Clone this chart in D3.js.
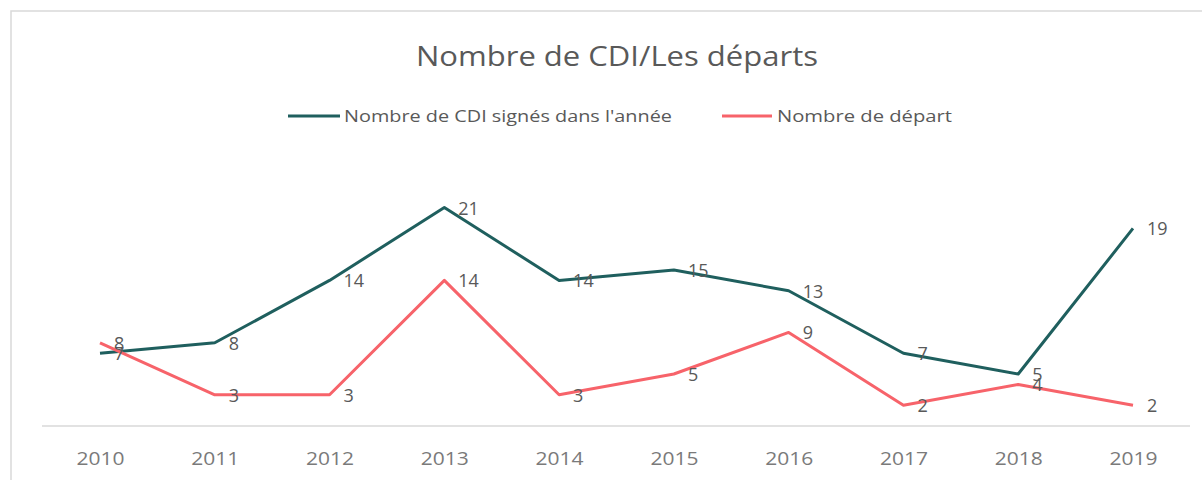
<!DOCTYPE html>
<html><head><meta charset="utf-8">
<script src="https://cdn.jsdelivr.net/npm/d3@7"></script>
<style>body{margin:0;background:#fff}svg{display:block}</style>
</head><body>
<svg id="c" width="1202" height="480"></svg>
<script>
const years = ["2010","2011","2012","2013","2014","2015","2016","2017","2018","2019"];
const cdi = [7, 8, 14, 21, 14, 15, 13, 7, 5, 19];
const departs = [8, 3, 3, 14, 3, 5, 9, 2, 4, 2];
const seriesNames = ["Nombre de CDI signés dans l'année", "Nombre de départ"];
const colors = ["#1f5f5e", "#f7636a"];
const title = "Nombre de CDI/Les départs";

const svg = d3.select("#c");
const font = "'Open Sans', 'Liberation Sans', sans-serif";

// frame
svg.append("rect").attr("x", 0).attr("y", 0).attr("width", 1202).attr("height", 480).attr("fill", "#fff");
svg.append("rect").attr("x", 11).attr("y", 11).attr("width", 1200).attr("height", 480)
  .attr("fill", "none").attr("stroke", "#d9d9d9").attr("stroke-width", 1.5);

const x = d3.scalePoint().domain(years).range([100, 1133]);
const y = d3.scaleLinear().domain([0, 25]).range([426, 166]);

// axis
const xAxis = d3.axisBottom(x).tickSize(0).tickPadding(26);
const gx = svg.append("g").attr("transform", "translate(0,426)").call(xAxis);
gx.select(".domain").remove();
svg.append("line").attr("x1", 42).attr("x2", 1190).attr("y1", 426).attr("y2", 426)
  .attr("stroke", "#d9d9d9").attr("stroke-width", 1.5);
gx.selectAll("text").attr("font-family", font).attr("font-size", 18).attr("fill", "#7a7a7a")
  .attr("textLength", 48).attr("lengthAdjust", "spacingAndGlyphs");

// title
svg.append("text").attr("x", 617).attr("y", 66).attr("text-anchor", "middle")
  .attr("font-family", font).attr("font-size", 27).attr("fill", "#595959")
  .attr("textLength", 402).attr("lengthAdjust", "spacingAndGlyphs").text(title);

// legend
const legend = [
  {name: seriesNames[0], color: colors[0], x1: 288, x2: 340, tx: 344, tw: 328},
  {name: seriesNames[1], color: colors[1], x1: 722, x2: 772, tx: 777, tw: 175}
];
legend.forEach(l => {
  svg.append("line").attr("x1", l.x1).attr("x2", l.x2).attr("y1", 116).attr("y2", 116)
    .attr("stroke", l.color).attr("stroke-width", 3);
  svg.append("text").attr("x", l.tx).attr("y", 122).attr("font-family", font)
    .attr("font-size", 17).attr("fill", "#595959")
    .attr("textLength", l.tw).attr("lengthAdjust", "spacingAndGlyphs").text(l.name);
});

const line = d3.line().x((d, i) => x(years[i])).y(d => y(d));
[cdi, departs].forEach((s, k) => {
  svg.append("path").datum(s).attr("d", line).attr("fill", "none")
    .attr("stroke", colors[k]).attr("stroke-width", 3).attr("stroke-linejoin", "round");
});
[cdi, departs].forEach((s, k) => {
  svg.selectAll(null).data(s).enter().append("text")
    .attr("x", (d, i) => x(years[i]) + 14)
    .attr("y", d => y(d) + 7)
    .attr("font-family", font).attr("font-size", 18).attr("fill", "#595959")
    .text(d => d);
});
</script>
</body></html>
